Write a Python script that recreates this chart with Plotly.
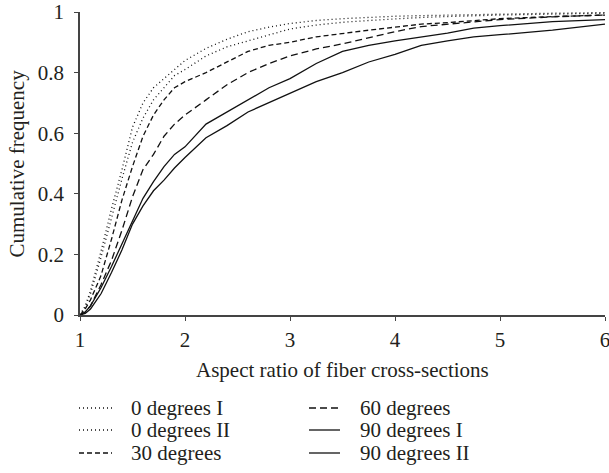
import plotly.graph_objects as go

aspect_ratio = [1.0, 1.05, 1.1, 1.2, 1.3, 1.4, 1.5, 1.6, 1.7, 1.8, 1.9, 2.0, 2.2, 2.4, 2.6, 2.8,
                3.0, 3.25, 3.5, 3.75, 4.0, 4.25, 4.5, 4.75, 5.0, 5.5, 6.0]

deg0_I = [0, 0.03, 0.08, 0.21, 0.35, 0.48, 0.62, 0.70, 0.75, 0.78, 0.81, 0.84, 0.88, 0.91, 0.935, 0.95,
          0.962, 0.972, 0.978, 0.983, 0.986, 0.988, 0.99, 0.992, 0.994, 0.996, 0.998]
deg0_II = [0, 0.025, 0.07, 0.19, 0.32, 0.45, 0.57, 0.65, 0.71, 0.75, 0.79, 0.81, 0.855, 0.885, 0.905, 0.925,
           0.944, 0.957, 0.966, 0.972, 0.978, 0.982, 0.985, 0.988, 0.99, 0.993, 0.996]
deg30 = [0, 0.02, 0.05, 0.13, 0.25, 0.38, 0.49, 0.59, 0.66, 0.71, 0.75, 0.77, 0.80, 0.835, 0.87, 0.89,
         0.90, 0.918, 0.93, 0.94, 0.95, 0.96, 0.965, 0.972, 0.978, 0.985, 0.99]
deg60 = [0, 0.01, 0.03, 0.10, 0.18, 0.28, 0.39, 0.48, 0.53, 0.59, 0.63, 0.66, 0.71, 0.76, 0.80, 0.83,
         0.855, 0.878, 0.895, 0.915, 0.935, 0.952, 0.96, 0.968, 0.975, 0.984, 0.99]
deg90_I = [0, 0.01, 0.03, 0.09, 0.16, 0.235, 0.31, 0.385, 0.44, 0.49, 0.53, 0.555, 0.63, 0.67, 0.71, 0.75,
           0.78, 0.83, 0.87, 0.89, 0.905, 0.918, 0.93, 0.947, 0.955, 0.968, 0.975]
deg90_II = [0, 0.005, 0.02, 0.07, 0.14, 0.215, 0.30, 0.36, 0.41, 0.445, 0.485, 0.52, 0.585, 0.625, 0.67, 0.70,
            0.73, 0.77, 0.80, 0.835, 0.86, 0.89, 0.905, 0.918, 0.925, 0.94, 0.96]

x_ticks = [1, 2, 3, 4, 5, 6]
y_ticks = [0, 0.2, 0.4, 0.6, 0.8, 1]
y_tick_labels = ["0", "0.2", "0.4", "0.6", "0.8", "1"]

series_names = ["0 degrees I", "0 degrees II", "30 degrees", "60 degrees", "90 degrees I", "90 degrees II"]
series_values = [deg0_I, deg0_II, deg30, deg60, deg90_I, deg90_II]
series_dash = ["1px,3px", "1px,3px", "5px,3px", "7px,4px", "solid", "solid"]

TXT = "#231f20"
FONT = "Liberation Serif"
W, H = 609, 473
L, R, T = 80, 4, 12
PW = W - L - R          # 525
PH = 303
B = H - T - PH


def px_x(px):  # window pixel -> paper x
    return (px - L) / PW


def px_y(py):  # window pixel -> paper y
    return (T + PH - py) / PH


fig = go.Figure()
for name, vals, dash in zip(series_names, series_values, series_dash):
    fig.add_trace(go.Scatter(
        x=aspect_ratio, y=vals, mode="lines", name=name, showlegend=False,
        line=dict(color="#111111", width=1.3, dash=dash),
    ))

# legend drawn as two columns of three entries (line sample + label)
leg_cols = [(79, 112, 129), (309, 340, 358)]
leg_rows = [408, 430, 453]
shapes, annotations = [], []
for i, (name, dash) in enumerate(zip(series_names, series_dash)):
    x0, x1, xt = leg_cols[i // 3]
    yr = leg_rows[i % 3]
    shapes.append(dict(type="line", xref="paper", yref="paper",
                       x0=px_x(x0), x1=px_x(x1), y0=px_y(yr), y1=px_y(yr),
                       line=dict(color="#111111", width=1.3, dash=dash)))
    annotations.append(dict(text=name, xref="paper", yref="paper", x=px_x(xt), y=px_y(yr),
                            xanchor="left", yanchor="middle", showarrow=False,
                            font=dict(family=FONT, size=21, color=TXT)))

annotations.append(dict(text="Aspect ratio of fiber cross-sections", xref="paper", yref="paper",
                        x=0.5, y=px_y(370), xanchor="center", yanchor="middle",
                        showarrow=False, font=dict(family=FONT, size=21, color=TXT)))
annotations.append(dict(text="Cumulative frequency", xref="paper", yref="paper",
                        x=px_x(16), y=0.5, xanchor="center", yanchor="middle", textangle=-90,
                        showarrow=False, font=dict(family=FONT, size=21, color=TXT)))

fig.update_layout(
    width=W, height=H,
    margin=dict(l=L, r=R, t=T, b=B, autoexpand=False),
    paper_bgcolor="white", plot_bgcolor="white",
    font=dict(family=FONT, size=21, color=TXT),
    showlegend=False,
    shapes=shapes,
    annotations=annotations,
)

fig.update_xaxes(range=[1, 6], tickvals=x_ticks, ticktext=[str(v) for v in x_ticks],
                 showgrid=False, zeroline=False, showline=True, linecolor="#444444", linewidth=1.5,
                 ticks="outside", ticklen=4, tickcolor="#444444", tickwidth=1.2,
                 ticklabelstandoff=1, ticklabeloverflow="allow")
fig.update_yaxes(range=[0, 1], tickvals=y_ticks, ticktext=y_tick_labels,
                 showgrid=False, zeroline=False, showline=True, linecolor="#444444", linewidth=1.5,
                 ticks="outside", ticklen=4, tickcolor="#444444", tickwidth=1.2,
                 ticklabelstandoff=6, ticklabeloverflow="allow")

# remove the default page margin so the figure sits at the window's top-left corner
fig.write_html("out.html", config={"displayModeBar": False},
               post_script="document.body.style.margin='0px';")
